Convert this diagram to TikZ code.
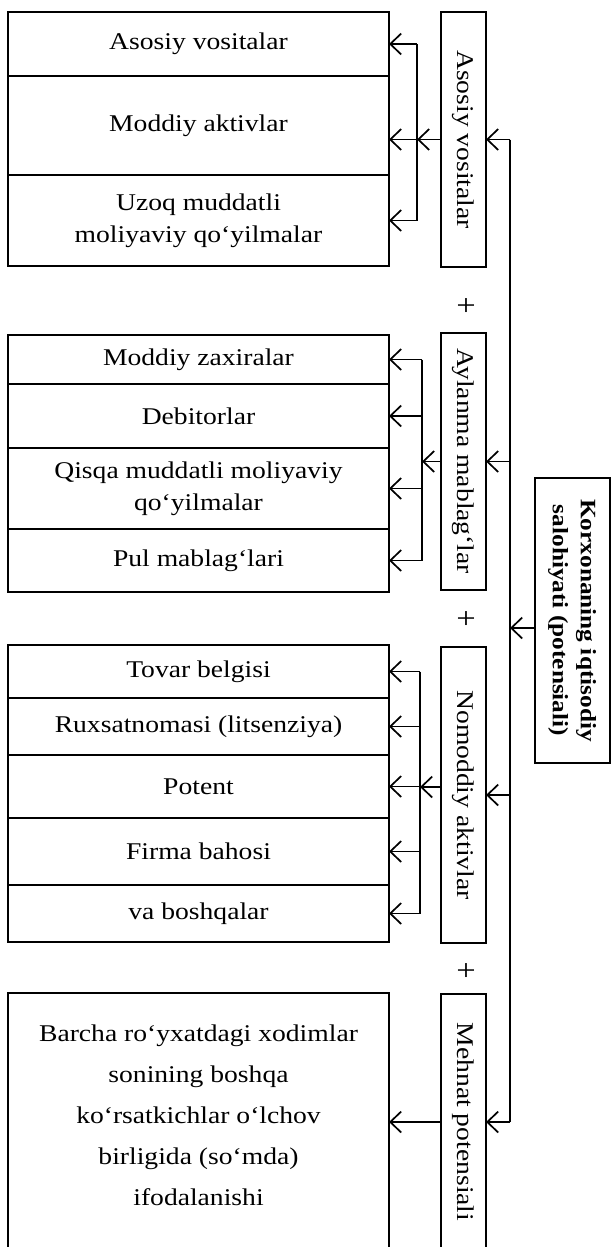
\documentclass[tikz,border=0pt]{standalone}
\usepackage{fontspec}
\usepackage{graphicx}
\setmainfont{Liberation Serif}[FakeStretch=1.15]
\usetikzlibrary{positioning,calc,arrows.meta}
\tikzstyle{item} = [rectangle, 
minimum width=381pt, 
outer sep=0pt,
align=center,
line width=1.5pt,
draw=black, 
font=\fontsize{24}{32}\selectfont]
\tikzstyle{group_box} = [rectangle, 
minimum width=45pt, 
outer sep=0pt,
line width=1.5pt,
draw=black, 
font=\fontsize{24}{30}\selectfont]
\tikzstyle{total_box} = [rectangle, minimum width=75pt, minimum height=285pt, outer sep=0pt, line width=1.5pt, draw=black, font=\fontsize{22}{28}\selectfont\bfseries]
\tikzstyle{arrow} = [line width=1.7pt,-{Straight Barb[length=11pt,width=21pt]}]
\tikzstyle{bracket} = [line width=1.7pt]

\begin{document}
\begin{tikzpicture}[x=1pt,y=-1pt]
\useasboundingbox (0,0) rectangle (613,1247);

% Fixed assets items
\node[item, minimum height=64pt] (Fixed_1) at (198.5,44) {Asosiy vositalar};
\node[item, minimum height=99pt, below=0pt of Fixed_1] (Fixed_2) {Moddiy aktivlar};
\node[item, minimum height=91pt, below=0pt of Fixed_2] (Fixed_3) {Uzoq muddatli\\moliyaviy qo‘yilmalar};

% Current assets items
\node[item, minimum height=49pt] (Current_1) at (198.5,359.5) {Moddiy zaxiralar};
\node[item, minimum height=64pt, below=0pt of Current_1] (Current_2) {Debitorlar};
\node[item, minimum height=81pt, below=0pt of Current_2] (Current_3) {Qisqa muddatli moliyaviy\\qo‘yilmalar};
\node[item, minimum height=63pt, below=0pt of Current_3] (Current_4) {Pul mablag‘lari};

% Intangible assets items
\node[item, minimum height=53pt] (Intangible_1) at (198.5,671.5) {Tovar belgisi};
\node[item, minimum height=57pt, below=0pt of Intangible_1] (Intangible_2) {Ruxsatnomasi (litsenziya)};
\node[item, minimum height=63pt, below=0pt of Intangible_2] (Intangible_3) {Potent};
\node[item, minimum height=67pt, below=0pt of Intangible_3] (Intangible_4) {Firma bahosi};
\node[item, minimum height=57pt, below=0pt of Intangible_4] (Intangible_5) {va boshqalar};

% Labour item (cut off at the bottom)
\node[item, minimum height=274pt] (Labour_Box) at (198.5,1130) {};
\node[align=center, font=\fontsize{24}{41}\selectfont] (Labour_Text) at (198.5,1115) {Barcha ro‘yxatdagi xodimlar\\sonining boshqa\\ko‘rsatkichlar o‘lchov\\birligida (so‘mda)\\ifodalanishi};

% Group boxes
\node[group_box, minimum height=255pt] (Fixed) at (463.5,139.5) {\rotatebox{-90}{Asosiy vositalar}};
\node[group_box, minimum height=257pt] (Current) at (463.5,461.5) {\rotatebox{-90}{Aylanma mablag‘lar}};
\node[group_box, minimum height=296pt] (Intangible) at (463.5,795) {\rotatebox{-90}{Nomoddiy aktivlar}};
\node[group_box, minimum height=256pt] (Labour) at (463.5,1122) {\rotatebox{-90}{Mehnat potensiali}};

% Plus signs
\node[font=\fontsize{30}{34}\selectfont] (Plus_1) at (466,307) {+};
\node[font=\fontsize{30}{34}\selectfont] (Plus_2) at (466,620) {+};
\node[font=\fontsize{30}{34}\selectfont] (Plus_3) at (466,972) {+};

% Total box
\node[total_box] (Total) at (572.5,620.5) {\rotatebox{-90}{\begin{tabular}{@{}c@{}}Korxonaning iqtisodiy\\salohiyati (potensiali)\end{tabular}}};

% Main bus
\coordinate (Bus_Top) at ([xshift=24pt]Fixed.east);
\coordinate (Bus_Bot) at ([xshift=24pt]Labour.east);
\draw [bracket] (Bus_Top) -- (Bus_Bot);
\draw [arrow] ([yshift=-7.5pt]Total.west) -- ([yshift=-7.5pt]Total.west -| Bus_Top);
\draw [arrow] (Bus_Top) -- (Fixed.east);
\draw [arrow] (Current.east -| Bus_Top) -- (Current.east);
\draw [arrow] (Intangible.east -| Bus_Top) -- (Intangible.east);
\draw [arrow] (Bus_Bot) -- (Labour.east);

% Bracket for fixed assets
\coordinate (Fixed_Br) at ([xshift=-24pt]Fixed.west);
\draw [arrow] (Fixed.west) -- (Fixed_Br);
\draw [bracket] (Fixed_Br |- Fixed_1) -- (Fixed_Br |- Fixed_3);
\draw [arrow] (Fixed_Br |- Fixed_1) -- (Fixed_1.east);
\draw [arrow] (Fixed_Br) -- (Fixed_Br -| Fixed_2.east);
\draw [arrow] (Fixed_Br |- Fixed_3) -- (Fixed_3.east);

% Bracket for current assets
\coordinate (Current_Br) at ([xshift=-19pt]Current.west);
\draw [arrow] (Current.west) -- (Current_Br);
\draw [bracket] (Current_Br |- Current_1) -- (Current_Br |- Current_4);
\draw [arrow] (Current_Br |- Current_1) -- (Current_1.east);
\draw [arrow] (Current_Br |- Current_2) -- (Current_2.east);
\draw [arrow] (Current_Br |- Current_3) -- (Current_3.east);
\draw [arrow] (Current_Br |- Current_4) -- (Current_4.east);

% Bracket for intangible assets
\coordinate (Intangible_Br) at ([xshift=-21pt]Intangible.west);
\draw [arrow] ([yshift=8pt]Intangible.west) -- ([yshift=8pt]Intangible.west -| Intangible_Br);
\draw [bracket] (Intangible_Br |- Intangible_1) -- (Intangible_Br |- Intangible_5);
\draw [arrow] (Intangible_Br |- Intangible_1) -- (Intangible_1.east);
\draw [arrow] (Intangible_Br |- Intangible_2) -- (Intangible_2.east);
\draw [arrow] (Intangible_Br |- Intangible_3) -- (Intangible_3.east);
\draw [arrow] (Intangible_Br |- Intangible_4) -- (Intangible_4.east);
\draw [arrow] (Intangible_Br |- Intangible_5) -- (Intangible_5.east);

% Labour connection
\draw [arrow] (Labour.west) -- (Labour.west -| Labour_Box.east);

\end{tikzpicture}
\end{document}
